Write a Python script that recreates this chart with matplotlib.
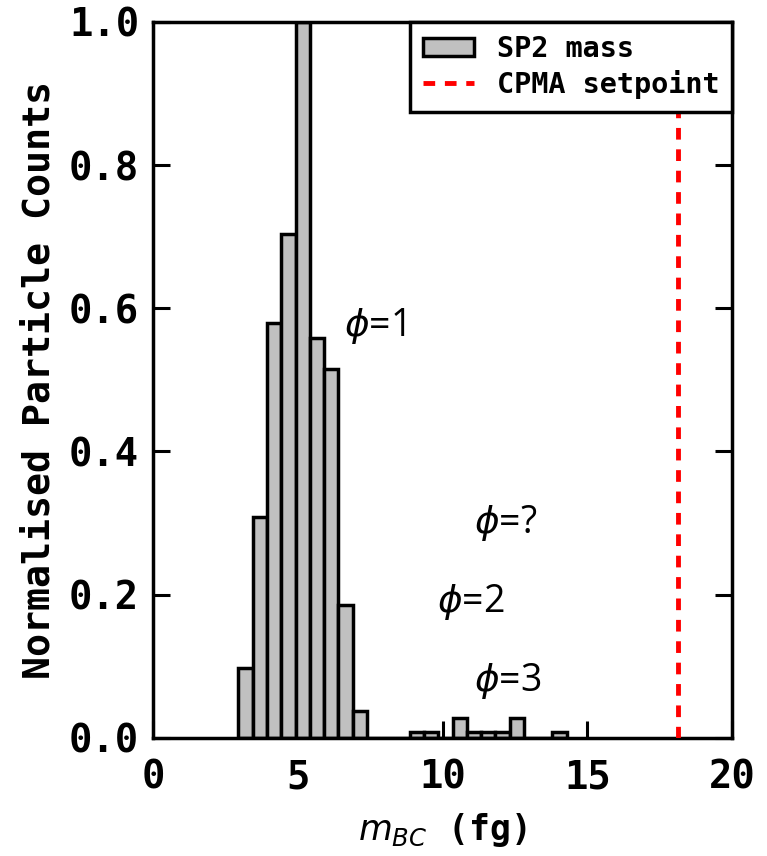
import numpy as np
import matplotlib
matplotlib.use("Agg")
import matplotlib.pyplot as plt

plt.rcParams['font.family'] = ['DejaVu Sans Mono']
plt.rcParams['mathtext.fontset'] = 'dejavusans'

# histogram of SP2 black carbon mass (normalised)
bin_start = 2.95
bin_width = 0.493
counts = [0.097, 0.309, 0.579, 0.704, 1.0, 0.559, 0.515, 0.186, 0.037,
          0.0, 0.0, 0.0, 0.008, 0.008, 0.0, 0.028, 0.008, 0.008, 0.008,
          0.028, 0.0, 0.0, 0.008]
cpma_setpoint = 18.15

phi_labels = [r'$\phi$=1', r'$\phi$=?', r'$\phi$=2', r'$\phi$=3']
phi_x = [6.6, 11.1, 9.8, 11.1]
phi_y = [0.575, 0.30, 0.19, 0.08]

edges = bin_start + bin_width * np.arange(len(counts))

fig = plt.figure(figsize=(7.67, 8.56), dpi=100)
ax = fig.add_axes([0.1995, 0.138, 0.7549, 0.8364])

bars = ax.bar(edges, counts, width=bin_width, align='edge', color='#c0c0c0',
              edgecolor='black', linewidth=2.5, label='SP2 mass', zorder=2)
vline = ax.axvline(cpma_setpoint, color='red', linewidth=3.5, dashes=(2.4, 2.0),
                   label='CPMA setpoint', zorder=3)

for lab, x, y in zip(phi_labels, phi_x, phi_y):
    ax.text(x, y, lab, fontsize=27, family='Open Sans', fontweight='normal',
            va='center', ha='left')

ax.set_xlim(0, 20)
ax.set_ylim(0, 1.0)
ax.set_xticks([0, 5, 10, 15, 20])
ax.set_yticks(np.arange(0, 1.01, 0.2))
ax.set_yticklabels(['%.1f' % v for v in np.arange(0, 1.01, 0.2)])
ax.tick_params(direction='in', length=12, width=2.2, top=True, right=True,
               labelsize=28, pad=10)
ax.tick_params(axis='x', pad=15)
for t in ax.get_xticklabels() + ax.get_yticklabels():
    t.set_fontweight('bold')
for s in ax.spines.values():
    s.set_linewidth(2.5)

ax.set_xlabel(r'$m_{BC}$ (fg)', fontsize=25, fontweight='bold', labelpad=10)
ax.set_ylabel('Normalised Particle Counts', fontsize=27.5, fontweight='bold',
              labelpad=8)

leg = ax.legend([bars, vline], ['SP2 mass', 'CPMA setpoint'], loc='upper right',
                prop={'size': 20.5, 'weight': 'bold'}, fancybox=False,
                edgecolor='black', framealpha=1, borderaxespad=0.0,
                handlelength=1.8, handleheight=0.6, borderpad=0.45,
                labelspacing=0.25)
leg.get_frame().set_linewidth(2.5)

fig.savefig('out.png', dpi=100)
